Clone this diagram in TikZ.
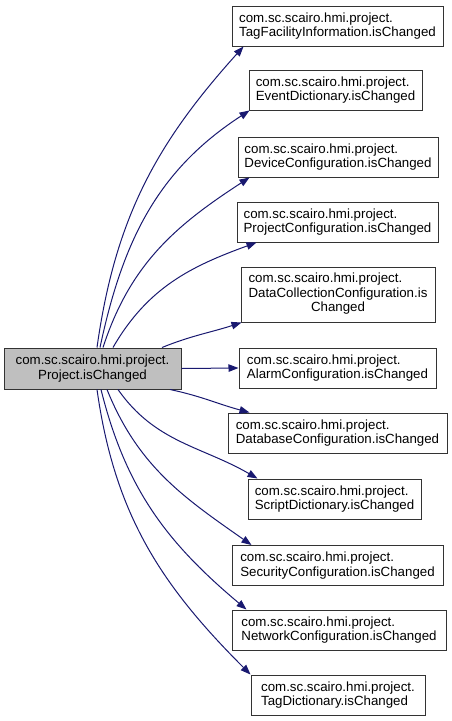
\documentclass[tikz,border=0pt]{standalone}
\usepackage{fontspec}
\setmainfont{Liberation Sans}
\usetikzlibrary{arrows.meta}
\definecolor{edgeblue}{RGB}{25,25,112}
\definecolor{srcgray}{RGB}{191,191,191}
\begin{document}
\begin{tikzpicture}[x=1pt,y=1pt,
    fn/.style={draw=black!80, line width=1pt, fill=white, inner sep=0pt,
      align=left, minimum height=40pt, font=\fontsize{13.3}{14.5}\selectfont},
    dep/.style={draw=edgeblue, line width=1pt, -{Triangle[length=10pt,width=7.5pt]}}]
    \useasboundingbox (0,0) rectangle (452,-721);
    % caller
    \node[fn, fill=srcgray, align=center, minimum width=177pt, minimum height=41pt] (src) at (92.5,-368.5)
      {com.sc.scairo.hmi.project.\\Project.isChanged};
    % callees
    \node[fn, minimum width=211pt] (tagfac) at (337.5,-26)
      {com.sc.scairo.hmi.project.\\TagFacilityInformation.isChanged};
    \node[fn, minimum width=173pt] (evdict) at (335.5,-90)
      {com.sc.scairo.hmi.project.\\EventDictionary.isChanged};
    \node[fn, minimum width=200pt] (devconf) at (338,-157)
      {com.sc.scairo.hmi.project.\\DeviceConfiguration.isChanged};
    \node[fn, minimum width=201pt] (projconf) at (337.5,-222)
      {com.sc.scairo.hmi.project.\\ProjectConfiguration.isChanged};
    \node[fn, minimum width=194pt, minimum height=55pt] (dcconf) at (338,-294.5)
      {\begin{tabular}{@{}l@{}}com.sc.scairo.hmi.project.\\DataCollectionConfiguration.is\\
       \multicolumn{1}{@{}c@{}}{Changed}\end{tabular}};
    \node[fn, minimum width=197pt] (alconf) at (337.5,-368)
      {com.sc.scairo.hmi.project.\\AlarmConfiguration.isChanged};
    \node[fn, minimum width=219pt] (dbconf) at (337.5,-433)
      {com.sc.scairo.hmi.project.\\DatabaseConfiguration.isChanged};
    \node[fn, minimum width=173pt] (scdict) at (334.5,-499)
      {com.sc.scairo.hmi.project.\\ScriptDictionary.isChanged};
    \node[fn, minimum width=211pt] (secconf) at (337.5,-565.5)
      {com.sc.scairo.hmi.project.\\SecurityConfiguration.isChanged};
    \node[fn, minimum width=214pt] (netconf) at (339,-630)
      {com.sc.scairo.hmi.project.\\NetworkConfiguration.isChanged};
    \node[fn, minimum width=174pt] (tagdict) at (338,-695)
      {com.sc.scairo.hmi.project.\\TagDictionary.isChanged};
    % calls
    \draw[dep] ([xshift=4.5pt]src.north) to[out=82,in=228] ([xshift=12pt]tagfac.south west);
    \draw[dep] ([xshift=7.5pt]src.north) to[out=78,in=213] ([xshift=1pt]evdict.south west);
    \draw[dep] ([xshift=10.5pt]src.north) to[out=72,in=213] ([xshift=12pt]devconf.south west);
    \draw[dep] ([xshift=20.5pt]src.north) to[out=60,in=200] ([xshift=20pt]projconf.south west);
    \draw[dep] ([xshift=69.5pt]src.north) to[out=22,in=198] ([xshift=1pt]dcconf.south west);
    \draw[dep] (src.east) -- (alconf.west);
    \draw[dep] ([xshift=77.5pt]src.south) to[out=-12,in=165] ([xshift=22pt]dbconf.north west);
    \draw[dep] ([xshift=25.5pt]src.south) to[out=-55,in=150] ([xshift=10pt]scdict.north west);
    \draw[dep] ([xshift=14.5pt]src.south) to[out=-68,in=145] ([xshift=20pt]secconf.north west);
    \draw[dep] ([xshift=8.5pt]src.south) to[out=-76,in=140] ([xshift=15pt]netconf.north west);
    \draw[dep] ([xshift=4.5pt]src.south) to[out=-82,in=135] (tagdict.north west);
\end{tikzpicture}
\end{document}
